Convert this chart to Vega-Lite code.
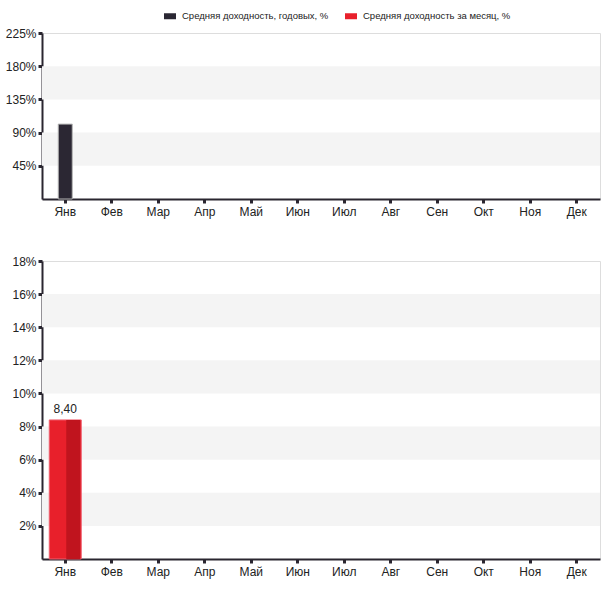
{
  "$schema": "https://vega.github.io/schema/vega-lite/v6.json",
  "padding": {"left": 4, "top": 10, "right": 5, "bottom": 5},
  "background": "white",
  "config": {
    "font": "Liberation Sans",
    "view": {"stroke": "#dddddd", "strokeWidth": 1},
    "axis": {
      "title": null,
      "grid": false,
      "zindex": 1,
      "labelOverlap": false,
      "domainColor": "#2a2630",
      "domainWidth": 2,
      "tickColor": "#2a2630",
      "tickSize": 4,
      "tickWidth": 3,
      "labelColor": "#222222",
      "labelFontSize": 12,
      "labelFont": "Liberation Sans"
    },
    "legend": {
      "orient": "none",
      "legendX": 122,
      "legendY": -23,
      "direction": "horizontal",
      "title": null,
      "labelFontSize": 9.5,
      "labelLimit": 0,
      "labelOffset": 6,
      "labelColor": "#222222",
      "symbolType": "M-1,-0.5L1,-0.5L1,0.5L-1,0.5Z",
      "symbolSize": 144,
      "symbolStrokeWidth": 0,
      "columnPadding": 16
    },
    "concat": {"spacing": 36}
  },
  "datasets": {
    "annual": [{"month": "Янв", "value": 101.5, "series": "Средняя доходность, годовых, %"}],
    "monthly": [{"month": "Янв", "value": 8.4, "label": "8,40", "series": "Средняя доходность за месяц, %"}],
    "bandsTop": [{"y0": 45, "y1": 90}, {"y0": 135, "y1": 180}],
    "bandsBottom": [{"y0": 2, "y1": 4}, {"y0": 6, "y1": 8}, {"y0": 10, "y1": 12}, {"y0": 14, "y1": 16}]
  },
  "vconcat": [
    {
      "width": 558,
      "height": 166,
      "layer": [
        {
          "data": {"name": "bandsTop"},
          "mark": {"type": "rect", "color": "#f4f4f4"},
          "encoding": {
            "y": {"field": "y0", "type": "quantitative", "scale": {"domain": [0, 225], "nice": false},
              "axis": {"values": [45, 90, 135, 180, 225], "tickCount": 10, "labelExpr": "datum.value + '%'"}},
            "y2": {"field": "y1"}
          }
        },
        {
          "data": {"name": "annual"},
          "mark": {"type": "bar", "width": 14, "stroke": "#b5b5b5", "strokeWidth": 1},
          "encoding": {
            "x": {"field": "month", "type": "ordinal", "sort": null,
              "scale": {"domain": ["Янв", "Фев", "Мар", "Апр", "Май", "Июн", "Июл", "Авг", "Сен", "Окт", "Ноя", "Дек"]},
              "axis": {"labelAngle": 0, "labelPadding": 3}},
            "y": {"field": "value", "type": "quantitative"},
            "color": {"field": "series", "type": "nominal",
              "scale": {"domain": ["Средняя доходность, годовых, %", "Средняя доходность за месяц, %"], "range": ["#2b2733", "#e8202b"]}}
          }
        }
      ]
    },
    {
      "width": 558,
      "height": 298,
      "layer": [
        {
          "data": {"name": "bandsBottom"},
          "mark": {"type": "rect", "color": "#f4f4f4"},
          "encoding": {
            "y": {"field": "y0", "type": "quantitative", "scale": {"domain": [0, 18], "nice": false},
              "axis": {"values": [2, 4, 6, 8, 10, 12, 14, 16, 18], "tickCount": 20, "labelExpr": "datum.value + '%'"}},
            "y2": {"field": "y1"}
          }
        },
        {
          "data": {"name": "monthly"},
          "mark": {"type": "bar", "width": 32, "stroke": "#f06070", "strokeWidth": 1},
          "encoding": {
            "x": {"field": "month", "type": "ordinal", "sort": null,
              "scale": {"domain": ["Янв", "Фев", "Мар", "Апр", "Май", "Июн", "Июл", "Авг", "Сен", "Окт", "Ноя", "Дек"]},
              "axis": {"labelAngle": 0, "labelPadding": 3}},
            "y": {"field": "value", "type": "quantitative"},
            "color": {"field": "series", "type": "nominal"}
          }
        },
        {
          "data": {"name": "monthly"},
          "mark": {"type": "bar", "width": 14, "xOffset": 8, "color": "#c0141e"},
          "encoding": {
            "x": {"field": "month", "type": "ordinal", "sort": null},
            "y": {"field": "value", "type": "quantitative"}
          }
        },
        {
          "data": {"name": "monthly"},
          "mark": {"type": "text", "dy": -11, "fontSize": 12, "color": "#222222"},
          "encoding": {
            "x": {"field": "month", "type": "ordinal", "sort": null},
            "y": {"field": "value", "type": "quantitative"},
            "text": {"field": "label"}
          }
        }
      ]
    }
  ]
}
